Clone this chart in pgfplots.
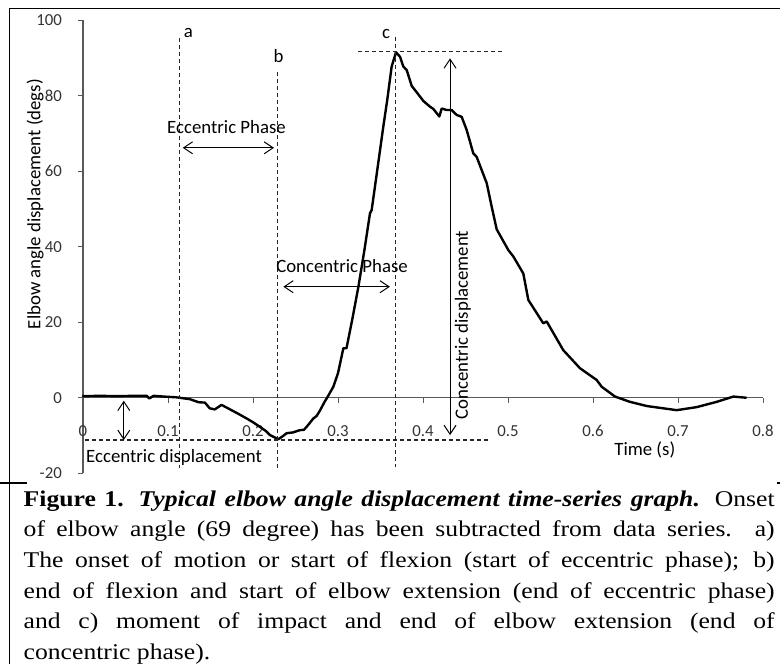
\documentclass[border=0pt]{standalone}
\usepackage{fontspec}
\setmainfont{Liberation Serif}
\newfontfamily\carl{Carlito}
\newfontfamily\capfont[FakeStretch=1.14]{Liberation Serif}
\usepackage{pgfplots}
\pgfplotsset{compat=1.18}
\usetikzlibrary{arrows.meta}
\newcommand\cf{\carl\fontsize{18.8}{22}\selectfont}
\newcommand\tf{\carl\fontsize{16.8}{18}\selectfont}

\pgfplotstableread{
t v
0.000 0.4
0.020 0.5
0.040 0.4
0.060 0.5
0.075 0.5
0.078 -0.2
0.083 0.5
0.095 0.3
0.110 0.1
0.126 -0.4
0.136 -1.2
0.1435 -1.3
0.149 -2.8
0.155 -3.1
0.163 -1.9
0.173 -3.1
0.183 -4.3
0.1925 -5.5
0.200 -6.5
0.208 -7.7
0.215 -8.8
0.220 -9.9
0.2298 -11.0
0.235 -10.2
0.2396 -9.4
0.247 -9.2
0.255 -8.6
0.260 -8.5
0.265 -7.2
0.271 -5.5
0.275 -4.8
0.279 -3.3
0.2847 -0.9
0.2867 -0.2
0.2945 2.9
0.300 6.5
0.3063 13.1
0.310 13.1
0.317 21.0
0.324 29.4
0.331 39.0
0.3376 48.8
0.3396 49.7
0.346 60.0
0.3533 71.8
0.358 79.0
0.3631 87.7
0.3682 91.5
0.373 90.3
0.3769 87.7
0.3808 86.8
0.3867 82.6
0.394 80.5
0.4004 78.6
0.4082 77.1
0.4121 76.5
0.4192 74.5
0.422 76.6
0.428 76.2
0.4337 76.2
0.4396 74.9
0.4455 74.4
0.4514 70.9
0.4592 64.7
0.4631 63.8
0.475 56.8
0.4808 50.6
0.4867 44.6
0.5004 39.1
0.5063 37.4
0.518 32.9
0.5239 25.9
0.5415 19.7
0.5455 20.2
0.565 12.6
0.5847 7.8
0.6043 4.7
0.6102 2.9
0.6259 0.3
0.6435 -1.1
0.6631 -2.2
0.6984 -3.3
0.7219 -2.5
0.7455 -1.1
0.7651 0.3
0.780 0.0
}\curve

\begin{document}
\begin{tikzpicture}[x=1pt,y=1pt]
\path[use as bounding box] (0,0) rectangle (780,-664);
% frame
\draw[line width=1.5pt] (9.3,-664) -- (9.3,-8.3) -- (780,-8.3);
\draw[line width=1.2pt] (0,-483) -- (27,-483);
\draw[line width=1.2pt] (777,-483) -- (780,-483);

\begin{axis}[
  at={(83pt,-473.2pt)}, anchor=south west,
  x=850pt, y=3.775pt,
  xmin=0, xmax=0.8, ymin=-20, ymax=100,
  axis x line=middle, axis y line=left,
  axis line style={-, black!65, line width=1.1pt},
  every inner x axis line/.append style={-},
  every outer y axis line/.append style={-},
  hide obscured x ticks=false, hide obscured y ticks=false,
  xtick={0,0.1,0.2,0.3,0.4,0.5,0.6,0.7,0.8},
  xticklabels={0,0.1,0.2,0.3,0.4,0.5,0.6,0.7,0.8},
  ytick={-20,0,20,40,60,80,100},
  yticklabels={-20,0,20,40,60,80,100},
  tick align=outside, major tick length=5pt,
  tick style={black!65, line width=1pt},
  xticklabel style={font=\tf, text=black!80, anchor=center, yshift=-28.3pt},
  yticklabel style={font=\tf, text=black!80, anchor=east, inner sep=0pt, xshift=-16pt},
  xlabel={Time (s)},
  xlabel style={font=\cf, at={(rel axis cs:0.8262,0.0505)}, anchor=center},
  ylabel={Elbow angle displacement (degs)},
  ylabel style={font=\cf, at={(rel axis cs:-0.0706,0.594)}, anchor=center},
  clip=false,
]
\addplot[black, line width=2.4pt, line join=round, line cap=round] table[x=t,y=v] {\curve};

% dashed guides
\begin{scope}[black!85, line width=1.1pt, dash pattern=on 4pt off 3pt]
\draw (axis cs:0.114,95.3) -- (axis cs:0.114,-18.6);
\draw (axis cs:0.2286,86.3) -- (axis cs:0.2286,-18.6);
\draw (axis cs:0.368,95.5) -- (axis cs:0.368,-18.4);
\draw (axis cs:0.3235,91.6) -- (axis cs:0.494,91.6);
\draw (axis cs:0.0024,-11.2) -- (axis cs:0.476,-11.2);
\end{scope}

% arrows
\begin{scope}[black, line width=1pt, {Straight Barb[length=9pt,width=12pt]}-{Straight Barb[length=9pt,width=12pt]}]
\draw (axis cs:0.048,-0.8) -- (axis cs:0.048,-11.2);
\draw (axis cs:0.1173,66.2) -- (axis cs:0.2247,66.2);
\draw (axis cs:0.2357,29.4) -- (axis cs:0.361,29.4);
\draw (axis cs:0.4318,-9.9) -- (axis cs:0.4318,89.9);
\end{scope}

% texts
\node[font=\cf] at (axis cs:0.1241,96.6) {a};
\node[font=\cf] at (axis cs:0.2302,90.4) {b};
\node[font=\cf] at (axis cs:0.3565,96.4) {c};
\node[font=\cf] at (axis cs:0.1688,71.8) {Eccentric Phase};
\node[font=\cf] at (axis cs:0.3047,34.9) {Concentric Phase};
\node[font=\cf] at (axis cs:0.1071,-15.9) {Eccentric displacement};
\node[font=\cf, rotate=90] at (axis cs:0.447,19.2) {Concentric displacement};
\end{axis}

% caption
\begin{scope}[every node/.style={anchor=base west, inner sep=0pt, font=\capfont\fontsize{22.5}{31}\selectfont}]
\node at (23.5,-506) {\makebox[751pt][s]{\textbf{Figure 1.} \textbf{\textit{Typical elbow angle displacement time-series graph.}} Onset}};
\node at (23.5,-536.7) {\makebox[751pt][s]{of elbow angle (69 degree) has been subtracted from data series. a)}};
\node at (23.5,-567.4) {\makebox[751pt][s]{The onset of motion or start of flexion (start of eccentric phase); b)}};
\node at (23.5,-598.1) {\makebox[751pt][s]{end of flexion and start of elbow extension (end of eccentric phase)}};
\node at (23.5,-628.8) {\makebox[751pt][s]{and c) moment of impact and end of elbow extension (end of}};
\node at (23.5,-659.3) {concentric phase).};
\end{scope}
\end{tikzpicture}
\end{document}
